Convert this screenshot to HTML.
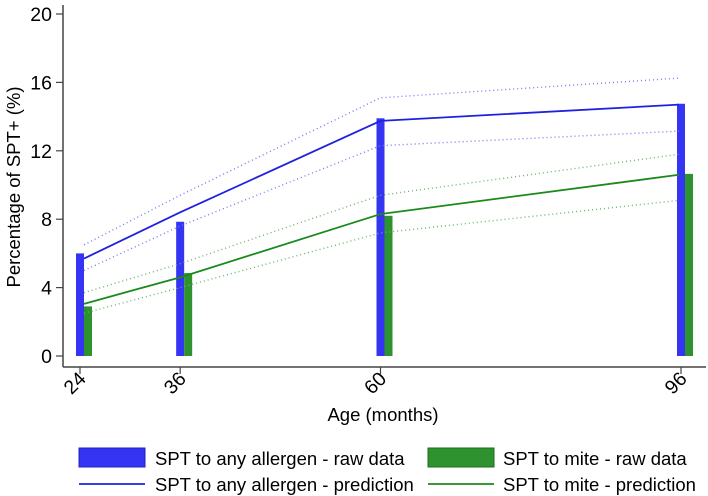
<!DOCTYPE html>
<html><head><meta charset="utf-8"><style>
body{margin:0;background:#fff;}
svg{display:block;font-family:"Liberation Sans",Arial,sans-serif;}
</style></head><body>
<svg id="chart" width="708" height="496">
<g id="axes"></g><g id="marks"></g>
<g>
<rect x="79" y="448" width="66" height="19" fill="#3434f2" stroke="#2020c0" stroke-width="1"/>
<text x="155" y="465" font-size="18.5">SPT to any allergen - raw data</text>
<rect x="428" y="448" width="66" height="19" fill="#2e932e" stroke="#1f6f1f" stroke-width="1"/>
<text x="503" y="465" font-size="18.5">SPT to mite - raw data</text>
<line x1="79" y1="484" x2="145" y2="484" stroke="#2020e0" stroke-width="1.8"/>
<text x="155" y="491" font-size="18.5">SPT to any allergen - prediction</text>
<line x1="428" y1="484" x2="494" y2="484" stroke="#1a8a1a" stroke-width="1.8"/>
<text x="503" y="491" font-size="18.5">SPT to mite - prediction</text>
</g>
</svg>
<script>
const ages=[24,36,60,96];
const anyRaw=[6.0,7.85,13.9,14.75];
const miteRaw=[2.9,4.85,8.2,10.65];
const anyPred=[5.7,8.4,13.75,14.7];
const anyUpper=[6.5,9.4,15.1,16.25];
const anyLower=[5.0,7.6,12.3,13.15];
const mitePred=[3.05,4.6,8.3,10.6];
const miteUpper=[3.7,5.4,9.4,11.8];
const miteLower=[2.5,4.0,7.2,9.1];
const yTicks=[0,4,8,12,16,20];
const xTicks=[24,36,60,96];

const NS="http://www.w3.org/2000/svg";
const X=v=>80+(v-24)*(601/72);
const Y=v=>356-v*17.1;
function mk(tag,attrs,parent,txt){const e=document.createElementNS(NS,tag);for(const k in attrs)e.setAttribute(k,attrs[k]);if(txt!==undefined)e.textContent=txt;parent.appendChild(e);return e;}
const axes=document.getElementById('axes'),marks=document.getElementById('marks');
let e;
e=mk('line',{x1:63,y1:5,x2:63,y2:367,stroke:'#444','stroke-width':1.5},axes);


e=mk('line',{x1:63,y1:367,x2:706,y2:367,stroke:'#444','stroke-width':1.5},axes);


yTicks.forEach(t=>{
 mk('line',{x1:56,y1:Y(t),x2:63,y2:Y(t),stroke:'#444','stroke-width':1.2},axes);
 e=mk('text',{x:52,y:Y(t)+7,'font-size':19.5,'text-anchor':'end'},axes,String(t));
 
 
});
xTicks.forEach(t=>{
 mk('line',{x1:X(t),y1:367,x2:X(t),y2:374,stroke:'#444','stroke-width':1.2},axes);
 e=mk('text',{x:X(t)+7,y:380,'font-size':19.5,'text-anchor':'end',transform:`rotate(-45 ${X(t)+7} 380)`},axes,String(t));
 
 
});
e=mk('text',{x:383,y:421,'font-size':18.5,'text-anchor':'middle'},axes,'Age (months)');


e=mk('text',{x:20,y:187,'font-size':18.5,'text-anchor':'middle',transform:'rotate(-90 20 187)'},axes,'Percentage of SPT+ (%)');



ages.forEach((a,i)=>{
 e=mk('rect',{x:X(a)-4,y:Y(anyRaw[i]),width:8,height:Y(0)-Y(anyRaw[i]),fill:'#3434f2'},marks);
 
 
 e=mk('rect',{x:X(a)+4,y:Y(miteRaw[i]),width:8,height:Y(0)-Y(miteRaw[i]),fill:'#2e932e'},marks);
 
 
});
function line(arr,color,dash,w,name){
 const pts=ages.map((a,i)=>{const off=i==0?4:(i==ages.length-1?-2:0);return (X(a)+off)+','+Y(arr[i]);}).join(' ');
 const l=mk('polyline',{points:pts,fill:'none',stroke:color,'stroke-width':w},marks);
 if(dash)l.setAttribute('stroke-dasharray',dash);
 
 
}
line(anyUpper,'#7a7af0','1 3',1.4,'any-upper-ci');
line(anyLower,'#7a7af0','1 3',1.4,'any-lower-ci');
line(miteUpper,'#6ab46a','1 3',1.4,'mite-upper-ci');
line(miteLower,'#6ab46a','1 3',1.4,'mite-lower-ci');
line(anyPred,'#2020e0',null,1.8,'any-prediction-line');
line(mitePred,'#1a8a1a',null,1.8,'mite-prediction-line');
</script>
</body></html>
